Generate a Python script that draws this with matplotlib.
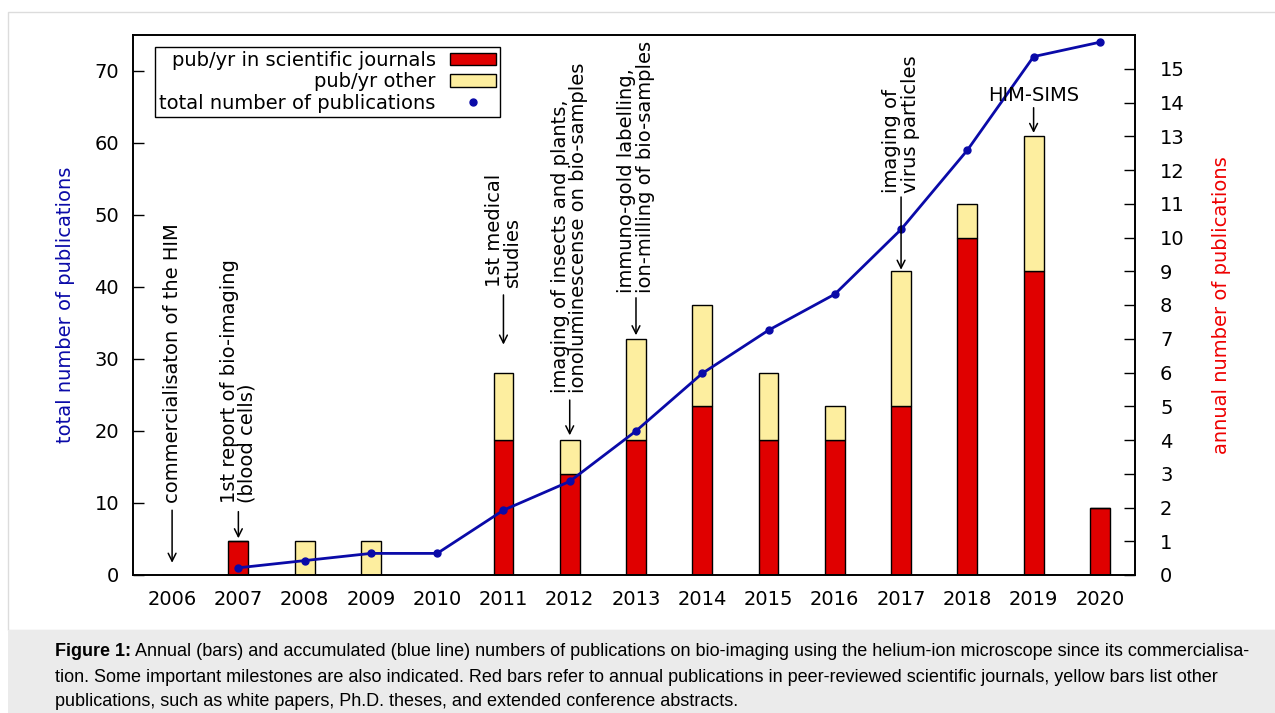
import matplotlib
matplotlib.use("Agg")
import matplotlib.pyplot as plt
from matplotlib.patches import Rectangle, Patch
from matplotlib.lines import Line2D

# ---------------- data ----------------
years = [2006, 2007, 2008, 2009, 2010, 2011, 2012, 2013, 2014, 2015, 2016, 2017, 2018, 2019, 2020]
journals = [0, 1, 0, 0, 0, 4, 3, 4, 5, 4, 4, 5, 10, 9, 2]
other = [0, 0, 1, 1, 0, 2, 1, 3, 3, 2, 1, 4, 1, 4, 0]
cum_years = [2007, 2008, 2009, 2010, 2011, 2012, 2013, 2014, 2015, 2016, 2017, 2018, 2019, 2020]
cumulative = [1, 2, 3, 3, 9, 13, 20, 28, 34, 39, 48, 59, 72, 74]

left_ticks = [0, 10, 20, 30, 40, 50, 60, 70]
right_ticks = list(range(0, 16))

# milestones: (year, text, text_bottom, arrow_tail, arrow_tip) in left-axis units
milestones = [
    (2006, "commercialisaton of the HIM", 10.0, 9.0, 1.7),
    (2007, "1st report of bio-imaging\n(blood cells)", 10.0, 8.8, 5.1),
    (2011, "1st medical\nstudies", 40.0, 38.9, 32.0),
    (2012, "imaging of insects and plants,\nionoluminescense on bio-samples", 25.3, 24.3, 19.4),
    (2013, "immuno-gold labelling,\nion-milling of bio-samples", 39.2, 38.5, 33.3),
    (2017, "imaging of\nvirus particles", 53.1, 52.5, 42.4),
]

caption_bold = "Figure 1:"
caption_lines = [
    " Annual (bars) and accumulated (blue line) numbers of publications on bio-imaging using the helium-ion microscope since its commercialisa-",
    "tion. Some important milestones are also indicated. Red bars refer to annual publications in peer-reviewed scientific journals, yellow bars list other",
    "publications, such as white papers, Ph.D. theses, and extended conference abstracts.",
]

RED = "#e00000"
YELLOW = "#fdee9f"
BLUE = "#0a0aa8"
FS = 14

plt.rcParams['font.family'] = ['DejaVu Sans']

W, H = 1275, 713
fig = plt.figure(figsize=(W / 100, H / 100), dpi=100)

def px(x0, y0, x1, y1):
    return (x0 / W, 1 - y1 / H, (x1 - x0) / W, (y1 - y0) / H)

# outer frame and caption box
l, b, w, h = px(8, 12, 1285, 630)
fig.add_artist(Rectangle((l, b), w, h, transform=fig.transFigure, facecolor="white",
                         edgecolor="#dcdcdc", lw=1.0, zorder=0))
l, b, w, h = px(8, 630, 1285, 720)
fig.add_artist(Rectangle((l, b), w, h, transform=fig.transFigure, facecolor="#ebebeb",
                         edgecolor="none", zorder=0))

ax = fig.add_axes(px(133, 35, 1135, 575))
ax2 = ax.twinx()
ax.set_zorder(ax2.get_zorder() + 1)
ax.patch.set_visible(False)

# bars on annual axis
ax2.bar(years, journals, width=0.3, color=RED, edgecolor="black", linewidth=1.0, zorder=2)
ax2.bar(years, other, bottom=journals, width=0.3, color=YELLOW, edgecolor="black",
        linewidth=1.0, zorder=2)
# cumulative line
ax.plot(cum_years, cumulative, color=BLUE, lw=2.0, marker="o", ms=5, zorder=5)

ax.set_xlim(2005.41, 2020.53)
ax.set_ylim(0, 75)
ax2.set_ylim(0, 16)

ax.set_xticks(years)
ax.set_xticklabels([str(y) for y in years], fontsize=FS)
ax.tick_params(axis="x", length=0, pad=11)
ax.set_yticks(left_ticks)
ax.tick_params(axis="y", direction="in", length=8, width=1, labelsize=FS, pad=10)
ax2.set_yticks(right_ticks)
ax2.tick_params(axis="y", direction="in", length=8, width=1, labelsize=FS, pad=18)

for a in (ax, ax2):
    for s in a.spines.values():
        s.set_linewidth(1.2)

ax.set_ylabel("total number of publications", color=BLUE, fontsize=FS)
ax.yaxis.set_label_coords(-0.058, 0.5)
ax2.set_ylabel("annual number of publications", color="#ee0000", fontsize=FS)
ax2.yaxis.set_label_coords(1.077, 0.5)

# milestones
for yr, txt, tb, tail, tip in milestones:
    ax.text(yr, tb, txt, rotation=90, ha="center", va="bottom", multialignment="left",
            fontsize=FS, zorder=6, linespacing=0.95)
    ax.annotate("", xy=(yr, tip), xytext=(yr, tail),
                arrowprops=dict(arrowstyle="->", color="black", lw=1.1,
                                shrinkA=0, shrinkB=0, mutation_scale=14), zorder=6)
ax.text(2019, 65.3, "HIM-SIMS", ha="center", va="bottom", fontsize=FS, zorder=6)
ax.annotate("", xy=(2019, 61.4), xytext=(2019, 64.9),
            arrowprops=dict(arrowstyle="->", color="black", lw=1.1,
                            shrinkA=0, shrinkB=0, mutation_scale=14), zorder=6)

# legend
handles = [
    Patch(facecolor=RED, edgecolor="black", linewidth=1.0),
    Patch(facecolor=YELLOW, edgecolor="black", linewidth=1.0),
    Line2D([], [], color=BLUE, marker="o", ms=5, linestyle="none"),
]
labels = ["pub/yr in scientific journals", "pub/yr other", "total number of publications"]
leg = ax.legend(handles, labels, loc="upper left", bbox_to_anchor=(0.022, 0.978),
                borderaxespad=0, markerfirst=False, fontsize=FS, frameon=True,
                fancybox=False, framealpha=1, edgecolor="black", handlelength=2.35,
                handleheight=0.6, labelspacing=0.12, borderpad=0.22, handletextpad=0.75)
leg.get_frame().set_linewidth(1.0)
for t in leg.get_texts():
    t.set_ha("right")
leg._legend_box.align = "right"

# caption
cfam = ["Liberation Sans", "DejaVu Sans"]
CFS = 13.0
y0 = 1 - 652 / H
bt = fig.text(55 / W, y0, caption_bold, fontsize=CFS, fontweight="bold", family=cfam,
              va="center", ha="left")
fig.canvas.draw()
r = fig.canvas.get_renderer()
ext = bt.get_window_extent(r)
fig.text(ext.x1 / W, y0, caption_lines[0], fontsize=CFS, family=cfam, va="center", ha="left")
fig.text(55 / W, 1 - 677 / H, caption_lines[1], fontsize=CFS, family=cfam, va="center", ha="left")
fig.text(55 / W, 1 - 701 / H, caption_lines[2], fontsize=CFS, family=cfam, va="center", ha="left")

fig.savefig("out.png", dpi=100)
